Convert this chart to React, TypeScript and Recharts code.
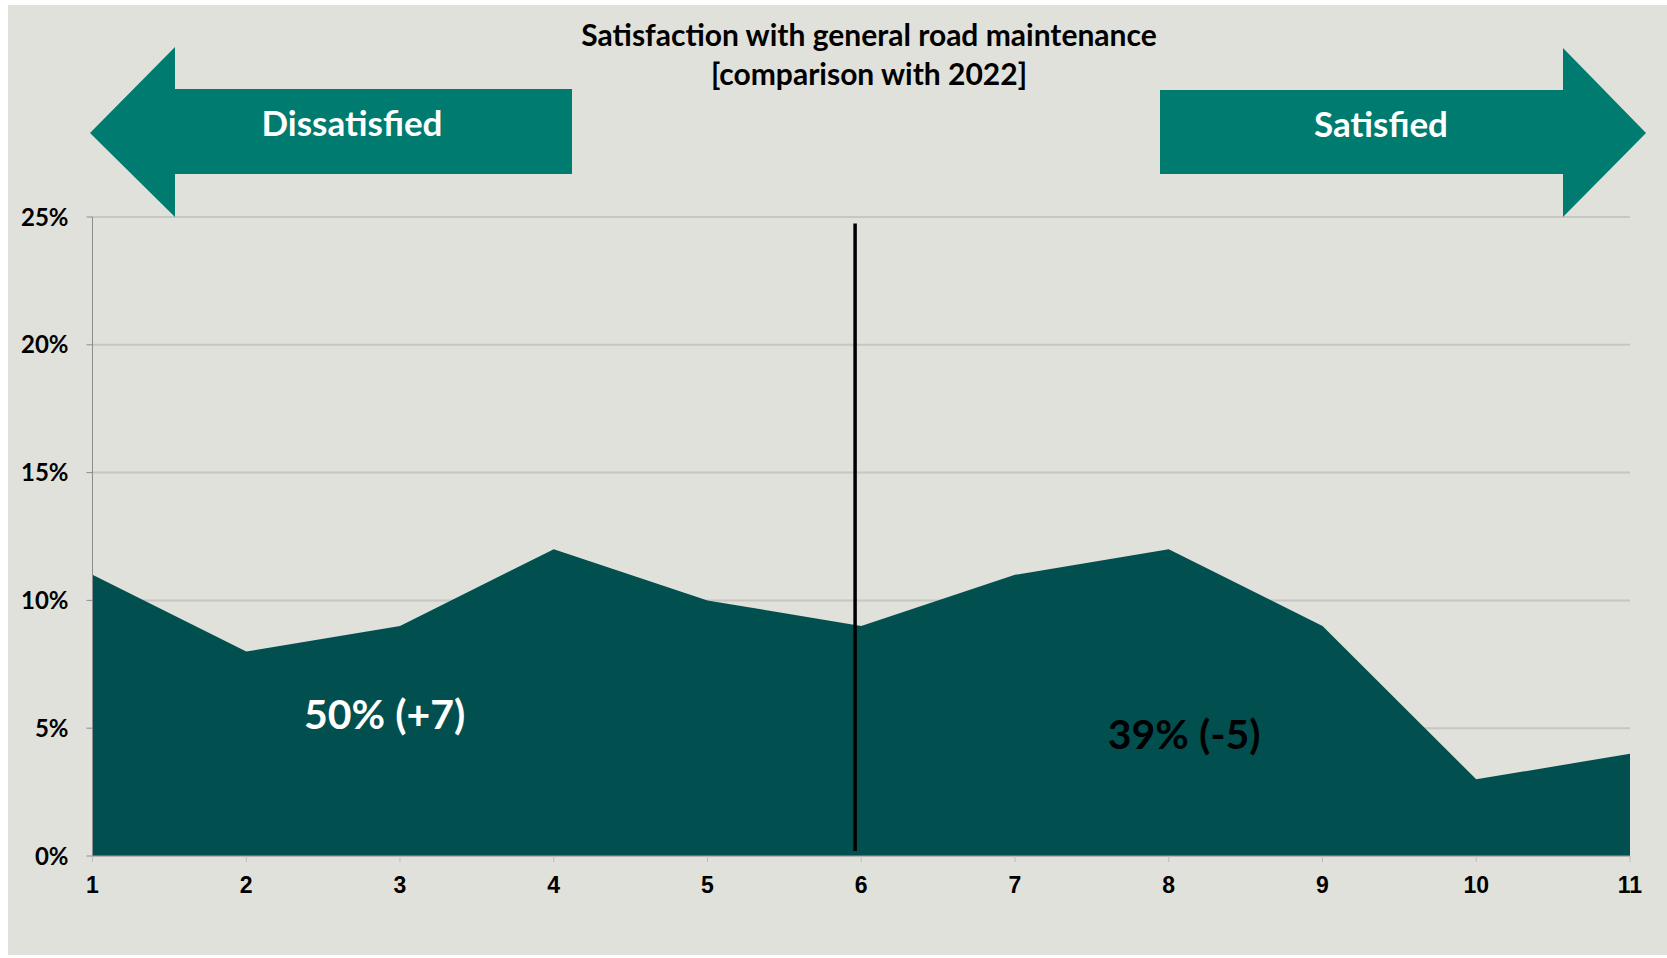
import React from 'react';
import {
  AreaChart, Area, XAxis, YAxis, CartesianGrid, ReferenceLine, ReferenceDot,
} from 'recharts';

const scores = [1, 2, 3, 4, 5, 6, 7, 8, 9, 10, 11];
const shares = [11, 8, 9, 12, 10, 9, 11, 12, 9, 3, 4];
const yTicks = [0, 5, 10, 15, 20, 25];
const titleLines = ['Satisfaction with general road maintenance', '[comparison with 2022]'];
const dissatisfiedLabel = '50% (+7)';
const satisfiedLabel = '39% (-5)';

const data = scores.map((s, i) => ({ score: s, share: shares[i] }));

const W = 1659;
const H = 950;
const BG = '#E0E1DA';
const AREA = '#024F50';
const ARROW = '#007B6F';
const FONT = 'Lato, "Open Sans", sans-serif';

const BigLabel = (props: any) => {
  const { viewBox, value, fill } = props;
  const cx = viewBox.x + (viewBox.width || 0) / 2;
  const cy = viewBox.y + (viewBox.height || 0) / 2;
  return (
    <text x={cx} y={cy} textAnchor="middle" dominantBaseline="central"
      fill={fill} fontFamily={FONT} fontWeight={700} fontSize={41}>
      {value}
    </text>
  );
};

export default function App() {
  return (
    <div style={{ position: 'absolute', left: 8, top: 5, width: W, height: H, background: BG }}>
      <AreaChart width={W} height={H} data={data}
        margin={{ top: 212, right: 37, bottom: 69, left: 24.5 }}>
        <CartesianGrid vertical={false} stroke="#C6C6C2" strokeWidth={2} />
        <XAxis dataKey="score" type="number" domain={[1, 11]} ticks={scores}
          allowDecimals={false} height={30} tickSize={6} tickMargin={15}
          axisLine={{ stroke: '#A0A0A0' }} tickLine={{ stroke: '#BDBDBD' }}
          tick={{ fill: '#000', fontSize: 23, fontWeight: 700, fontFamily: '"Liberation Sans Narrow", "Liberation Sans", Arial, sans-serif' }} />
        <YAxis domain={[0, 25]} ticks={yTicks} width={60} tickSize={6} tickMargin={18}
          tickFormatter={(v: number) => `${v}%`}
          axisLine={{ stroke: '#8C8C8C' }} tickLine={{ stroke: '#8C8C8C' }}
          tick={{ fill: '#000', fontSize: 24, fontWeight: 700, fontFamily: FONT }} />
        <Area type="linear" dataKey="share" stroke="none" fill={AREA} fillOpacity={1}
          isAnimationActive={false} dot={false} activeDot={false} />
        <ReferenceLine segment={[{ x: 5.96, y: 24.75 }, { x: 5.96, y: 0.2 }]}
          stroke="#000" strokeWidth={3.5} ifOverflow="visible" />
        <ReferenceDot x={2.9} y={5.56} r={0} stroke="none" fill="none"
          label={<BigLabel value={dissatisfiedLabel} fill="#FFFFFF" />} />
        <ReferenceDot x={8.1} y={4.8} r={0} stroke="none" fill="none"
          label={<BigLabel value={satisfiedLabel} fill="#000000" />} />
      </AreaChart>
      <svg width={W} height={H} style={{ position: 'absolute', left: 0, top: 0, pointerEvents: 'none' }}>
        {/* arrows */}
        <polygon fill={ARROW}
          points="82,128 167,42 167,84 564,84 564,169 167,169 167,212" />
        <polygon fill={ARROW}
          points="1638,128 1555,43 1555,85 1152,85 1152,169 1555,169 1555,212" />
        <text x={344} y={117} textAnchor="middle" dominantBaseline="central"
          fill="#fff" fontFamily={FONT} fontWeight={700} fontSize={35}>Dissatisfied</text>
        <text x={1373} y={118} textAnchor="middle" dominantBaseline="central"
          fill="#fff" fontFamily={FONT} fontWeight={700} fontSize={35}>Satisfied</text>
        {titleLines.map((t, i) => (
          <text key={t} x={861} y={29 + i * 39} textAnchor="middle" dominantBaseline="central"
            fill="#000" fontFamily={FONT} fontWeight={700} fontSize={30}>{t}</text>
        ))}
      </svg>
    </div>
  );
}
